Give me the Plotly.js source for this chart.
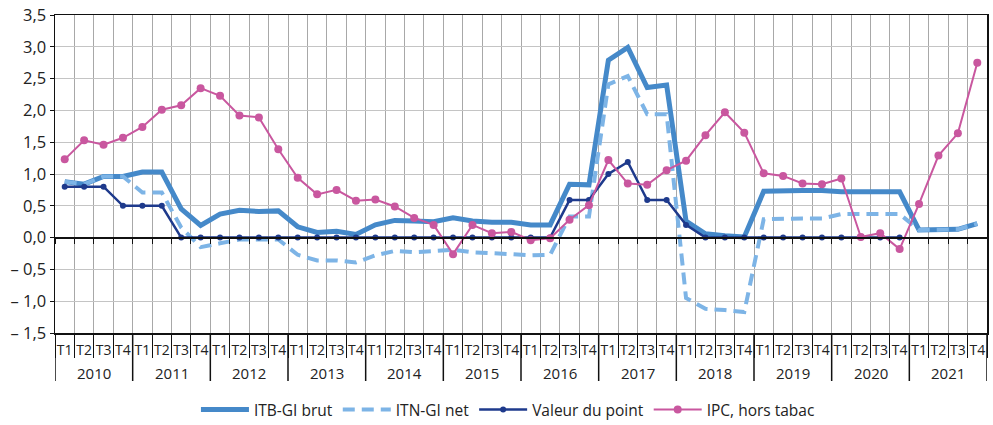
<!DOCTYPE html>
<html>
<head>
<meta charset="utf-8">
<script src="https://cdn.plot.ly/plotly-3.0.1.min.js"></script>
<style>html,body{margin:0;padding:0;background:#fff;}#chart{width:993px;height:425px;}</style>
</head>
<body>
<div id="chart"></div>
<script>
// ---- Data ----
const yearLabels = ["2010","2011","2012","2013","2014","2015","2016","2017","2018","2019","2020","2021"];
const quarterLabels = ["T1","T2","T3","T4"];

const itbBrut = [0.88,0.84,0.96,0.96, 1.03,1.03,0.45,0.19, 0.37,0.43,0.41,0.42,
                 0.17,0.08,0.10,0.05, 0.20,0.27,0.26,0.25, 0.31,0.26,0.24,0.24,
                 0.20,0.20,0.84,0.83, 2.79,2.99,2.36,2.40, 0.26,0.06,0.03,0.01,
                 0.73,0.74,0.74,0.74, 0.72,0.72,0.72,0.72, 0.12,0.13,0.13,0.22];
const itnNet  = [0.88,0.84,0.96,0.96, 0.71,0.71,0.16,-0.15, -0.09,-0.03,-0.03,-0.03,
                 -0.27,-0.36,-0.36,-0.39, -0.28,-0.21,-0.23,-0.21, -0.19,-0.23,-0.24,-0.26,
                 -0.28,-0.27,0.33,0.33, 2.41,2.54,1.94,1.94, -0.95,-1.12,-1.14,-1.17,
                 0.29,0.30,0.30,0.30, 0.37,0.37,0.37,0.37, 0.12,0.13,0.13,0.22];
const valeurPoint = [0.8,0.8,0.8,0.5, 0.5,0.5,0,0, 0,0,0,0,
                     0,0,0,0, 0,0,0,0, 0,0,0,0,
                     0,0,0.59,0.59, 1.0,1.19,0.59,0.59, 0.20,0,0,0,
                     0,0,0,0, 0,0,0,0, null,null,null,null];
const ipcHorsTabac = [1.23,1.53,1.46,1.57, 1.74,2.01,2.08,2.35, 2.23,1.92,1.89,1.39,
                      0.94,0.68,0.75,0.58, 0.60,0.49,0.31,0.20, -0.26,0.20,0.07,0.09,
                      -0.04,-0.01,0.28,0.51, 1.22,0.85,0.83,1.06, 1.21,1.61,1.97,1.65,
                      1.01,0.97,0.85,0.84, 0.93,0.01,0.07,-0.18, 0.53,1.29,1.64,2.75];

const yTickVals = [-1.5,-1.0,-0.5,0,0.5,1.0,1.5,2.0,2.5,3.0,3.5];
const yTickText = ["– 1,5","– 1,0","– 0,5","0,0","0,5","1,0","1,5","2,0","2,5","3,0","3,5"];

// ---- Build x positions (one slot per quarter) ----
const xQ = [];
yearLabels.forEach(() => quarterLabels.forEach(q => xQ.push(q)));
const n = xQ.length;
const xIdx = xQ.map((_, i) => i);
const boundaries = [];
for (let i = 0; i <= n; i++) boundaries.push(i - 0.5);
const nq = quarterLabels.length;

const FONT = "Open Sans, Lato, sans-serif";
const TXT = "#222";

const traces = [
  {name:"ITB-GI brut", x:xIdx, y:itbBrut, type:"scatter", mode:"lines",
   line:{color:"#4589c9", width:5}},
  {name:"ITN-GI net", x:xIdx, y:itnNet, type:"scatter", mode:"lines",
   line:{color:"#7db4e6", width:4, dash:"12px,7px"}},
  {name:"Valeur du point", x:xIdx, y:valeurPoint, type:"scatter", mode:"lines+markers",
   line:{color:"#1e3a8c", width:2.5}, marker:{color:"#1e3a8c", size:6}},
  {name:"IPC, hors tabac", x:xIdx, y:ipcHorsTabac, type:"scatter", mode:"lines+markers",
   line:{color:"#c9579f", width:2}, marker:{color:"#c9579f", size:8}}
];

// year labels and year dividers
const plotH = 425 - 15 - 92;
const annotations = yearLabels.map((yr, k) => ({
  text: yr, x: k*nq + (nq-1)/2, xref:"x", y: -(373-333)/plotH, yref:"paper",
  showarrow:false, yanchor:"middle", xanchor:"center",
  font:{family:FONT, size:15, color:TXT}
}));
const shapes = [];
for (let k = 0; k <= yearLabels.length; k++) {
  shapes.push({type:"line", xref:"x", yref:"paper", x0:k*nq-0.5, x1:k*nq-0.5,
    y0:0, y1:-(381-333)/plotH, line:{color:"#111", width:1.5}});
}

const layout = {
  width:993, height:425,
  margin:{l:55, r:6, t:15, b:92},
  paper_bgcolor:"#fff", plot_bgcolor:"#fff",
  font:{family:FONT, color:TXT, size:14},
  showlegend:true,
  legend:{orientation:"h", x:0.486, xanchor:"center", xref:"paper",
          y:(425-410)/425, yanchor:"middle", yref:"container",
          font:{family:FONT, size:15.5, color:TXT}, itemwidth:48, traceorder:"normal"},
  xaxis:{range:[-0.5, n-0.5], tickvals:xIdx, ticktext:xQ, tickangle:0, automargin:false,
         showgrid:false, zeroline:false, ticks:"", ticklabelstandoff:4,
         showline:true, linecolor:"#111", linewidth:1.5, mirror:true,
         minor:{tickvals:boundaries, showgrid:true, gridcolor:"#a8a8a8", gridwidth:1,
                ticks:"outside", ticklen:23, tickcolor:"#111", tickwidth:1},
         tickfont:{family:FONT, size:14, color:TXT}},
  xaxis2:{overlaying:"x", anchor:"free", position:0.3, range:[-0.5, n-0.5],
          tickvals:boundaries, showticklabels:false,
          ticks:"outside", ticklen:5, tickcolor:"#111", tickwidth:1,
          showline:true, linecolor:"#111", linewidth:2, showgrid:false, zeroline:false},
  yaxis:{range:[-1.5,3.5], tickvals:yTickVals, ticktext:yTickText, automargin:false,
         showgrid:true, gridcolor:"#c4c4c4", gridwidth:1,
         zeroline:false, showline:true, linecolor:"#111", linewidth:1.5, mirror:true,
         ticks:"outside", ticklen:4, tickcolor:"#111",
         tickfont:{family:FONT, size:16.5, color:TXT}},
  annotations: annotations,
  shapes: shapes
};

// invisible trace to activate xaxis2
traces.push({x:[0], y:[0], xaxis:"x2", yaxis:"y", mode:"markers",
  marker:{opacity:0}, showlegend:false, hoverinfo:"skip"});

Plotly.newPlot("chart", traces, layout, {staticPlot:true, displayModeBar:false});
</script>
</body>
</html>
